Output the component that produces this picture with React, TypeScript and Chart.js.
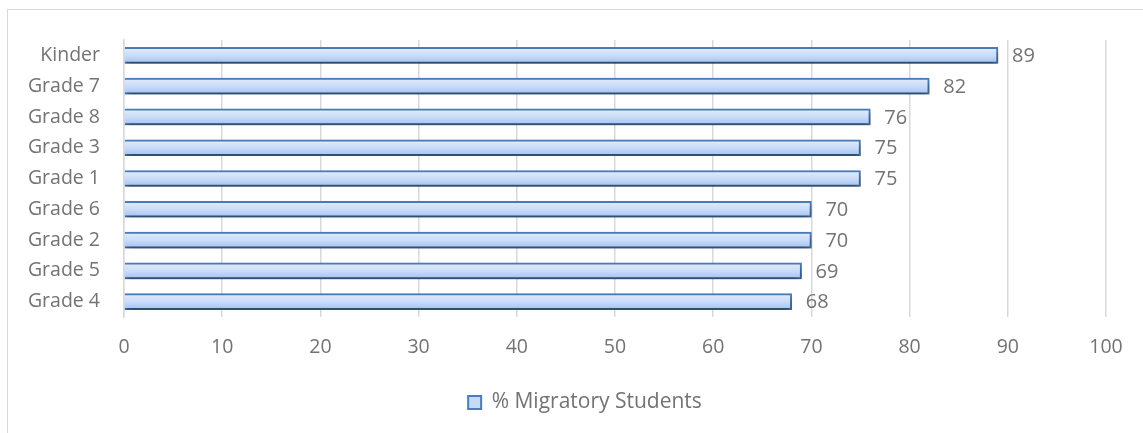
import React, { useEffect, useRef } from "react";
import { Chart, registerables } from "chart.js";

Chart.register(...registerables);

const categories = ["Kinder", "Grade 7", "Grade 8", "Grade 3", "Grade 1", "Grade 6", "Grade 2", "Grade 5", "Grade 4"];
const values = [89, 82, 76, 75, 75, 70, 70, 69, 68];
const seriesLabel = "% Migratory Students";
const axisMin = 0;
const axisMax = 100;
const axisStep = 10;

const FONT = "'Open Sans', sans-serif";
const TEXT = "#737373";
const BORDER = "#4a7ebb";
const BAR_T = 16;

function barFill(c: any) {
  const chart = c.chart;
  const ys = chart.scales && chart.scales.y;
  if (!ys || c.dataIndex === undefined) return "#c6d9f7";
  const y = ys.getPixelForValue(c.dataIndex);
  const g = chart.ctx.createLinearGradient(0, y - BAR_T / 2, 0, y + BAR_T / 2);
  g.addColorStop(0, "#e3edfd");
  g.addColorStop(0.5, "#cadcf9");
  g.addColorStop(1, "#a3c1f0");
  return g;
}

const barStylePlugin = {
  id: "barStyle",
  afterLayout(chart: any) {
    const lg = chart.legend;
    if (lg) {
      lg.left += 32;
      lg.right += 32;
    }
  },
  beforeDatasetDraw(chart: any) {
    const ctx = chart.ctx;
    ctx.save();
    ctx.shadowColor = "rgba(0,0,0,0.45)";
    ctx.shadowBlur = 6;
    ctx.shadowOffsetX = 1;
    ctx.shadowOffsetY = 4;
  },
  afterDatasetDraw(chart: any) {
    chart.ctx.restore();
  },
  afterDatasetsDraw(chart: any) {
    const ctx = chart.ctx;
    ctx.save();
    ctx.font = `20px ${FONT}`;
    ctx.fillStyle = TEXT;
    ctx.textBaseline = "middle";
    ctx.textAlign = "left";
    chart.getSortedVisibleDatasetMetas().forEach((meta: any) => {
      meta.data.forEach((el: any, i: number) => {
        const v = chart.data.datasets[meta.index].data[i];
        ctx.fillText(String(v), el.x + 14, el.y + 1);
      });
    });
    ctx.restore();
  },
};

export default function App() {
  const ref = useRef<HTMLCanvasElement>(null);
  useEffect(() => {
    document.body.style.margin = "0";
    document.body.style.overflow = "hidden";
    const chart = new Chart(ref.current!, {
      type: "bar",
      data: {
        labels: categories,
        datasets: [
          {
            label: seriesLabel,
            data: values,
            backgroundColor: barFill,
            borderColor: BORDER,
            borderWidth: 2,
            barThickness: BAR_T,
          },
        ],
      },
      options: {
        indexAxis: "y",
        animation: false,
        responsive: false,
        devicePixelRatio: 1,
        layout: { padding: { left: 0, right: 37, top: 40, bottom: 10 } },
        scales: {
          x: {
            min: axisMin,
            max: axisMax,
            border: { display: false },
            grid: { color: "#d9d9d9", lineWidth: 1.5, drawTicks: false },
            ticks: {
              stepSize: axisStep,
              padding: 19,
              color: TEXT,
              font: { family: FONT, size: 19.5 },
            },
            afterFit(scale: any) {
              scale.height = 65;
            },
          },
          y: {
            border: { display: true, color: "#d9d9d9", width: 1.5 },
            grid: { display: false, drawTicks: false },
            ticks: {
              padding: 24,
              color: TEXT,
              font: { family: FONT, size: 19.5 },
            },
            afterFit(scale: any) {
              scale.width = 124;
            },
          },
        },
        plugins: {
          tooltip: { enabled: false },
          legend: {
            position: "bottom",
            labels: {
              color: TEXT,
              font: { family: FONT, size: 21 },
              boxWidth: 13,
              boxHeight: 13,
              padding: 10,
              generateLabels: () => [
                {
                  text: seriesLabel,
                  fillStyle: "#c6d9f7",
                  strokeStyle: BORDER,
                  lineWidth: 2,
                  datasetIndex: 0,
                  fontColor: TEXT,
                },
              ],
            },
          },
        },
      },
      plugins: [barStylePlugin],
    });
    return () => chart.destroy();
  }, []);

  return (
    <div style={{ position: "fixed", left: 0, top: 0, width: 1143, height: 433, overflow: "hidden", background: "#fff" }}>
      <div
        style={{
          position: "absolute",
          left: 7,
          top: 9,
          width: 1300,
          height: 600,
          border: "1.5px solid #d9d9d9",
        }}
      />
      <canvas ref={ref} width={1143} height={433} style={{ position: "absolute", left: 0, top: 0 }} />
    </div>
  );
}
